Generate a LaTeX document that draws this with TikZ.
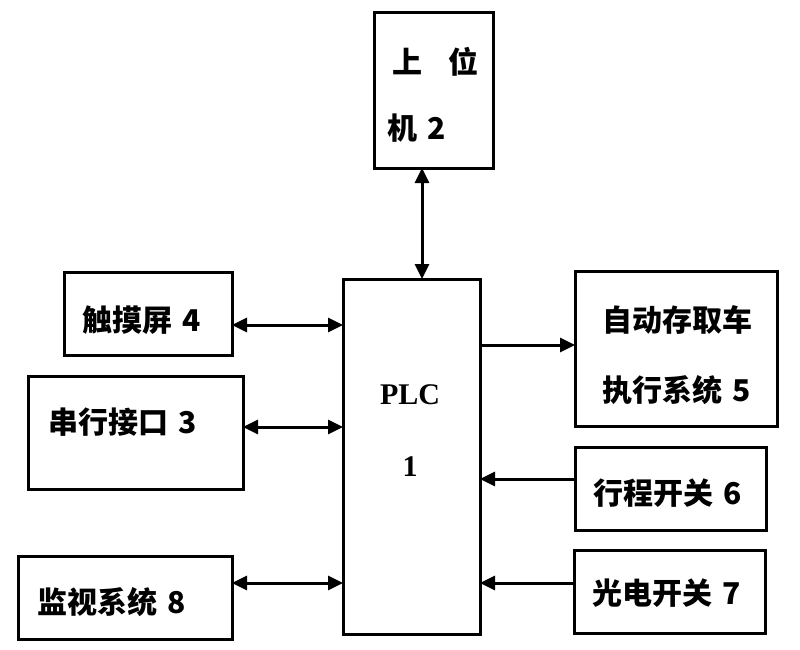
\documentclass[tikz,border=0pt]{standalone}
\usepackage{fontspec}
\setmainfont{Liberation Serif}
\newfontfamily\cjk{Noto Sans CJK SC}
\usetikzlibrary{arrows.meta}
\begin{document}
\begin{tikzpicture}[x=1pt,y=-1pt,
  box/.style={draw, line width=3pt, inner sep=0pt, outer sep=0pt},
  lbl/.style={anchor=west, inner sep=0pt, font=\cjk\bfseries\fontsize{30}{36}\selectfont},
  serif/.style={inner sep=0pt, font=\bfseries\fontsize{30}{36}\selectfont},
  conn/.style={line width=3pt, arrows={-Triangle[length=15pt,width=14pt]}},
  bconn/.style={line width=3pt, arrows={Triangle[length=15pt,width=14pt]-Triangle[length=15pt,width=14pt]}}]
\useasboundingbox (0,0) rectangle (800,650);
\fill[white] (0,0) rectangle (800,650);
% boxes
\node[box, minimum width=119pt, minimum height=155pt] (b2) at (433.5,90.5) {};
\node[box, minimum width=137pt, minimum height=355pt] (plc) at (411.5,456.5) {};
\node[box, minimum width=168pt, minimum height=83pt] (b4) at (148,313.5) {};
\node[box, minimum width=215pt, minimum height=113pt] (b3) at (135.5,432.5) {};
\node[box, minimum width=214pt, minimum height=83pt] (b8) at (125,597.5) {};
\node[box, minimum width=202pt, minimum height=155pt] (b5) at (676,348.5) {};
\node[box, minimum width=191pt, minimum height=83pt] (b6) at (670.5,488.5) {};
\node[box, minimum width=191pt, minimum height=83pt] (b7) at (669.5,591.5) {};
% texts
\node[lbl] (t2a) at (392,62) {上\hspace{26pt}位};
\node[lbl] (t2b) at (387,128) {机\hspace{0.35em}2};
\node[serif] (tplc) at (410,395) {PLC};
\node[serif] (tone) at (410,467) {1};
\node[lbl] (t4) at (82,320) {触摸屏\hspace{0.35em}4};
\node[lbl] (t3) at (48,422) {串行接口\hspace{0.35em}3};
\node[lbl] (t8) at (37,602) {监视系统\hspace{0.35em}8};
\node[lbl] (t5a) at (602,320) {自动存取车};
\node[lbl] (t5b) at (602,390) {执行系统\hspace{0.35em}5};
\node[lbl] (t6) at (593,493) {行程开关\hspace{0.35em}6};
\node[lbl] (t7) at (592,593) {光电开关\hspace{0.35em}7};
% connector rows
\coordinate (v2) at (422,0);
\coordinate (y4) at (0,325);
\coordinate (y3) at (0,427);
\coordinate (y8) at (0,583);
\coordinate (y5) at (0,345);
\coordinate (y6) at (0,479);
\coordinate (y7) at (0,583);
% connectors
\draw[bconn] (b2.south -| v2) -- (plc.north -| v2);
\draw[bconn] (b4.east |- y4) -- (plc.west |- y4);
\draw[bconn] (b3.east |- y3) -- (plc.west |- y3);
\draw[bconn] (b8.east |- y8) -- (plc.west |- y8);
\draw[conn] (plc.east |- y5) -- (b5.west |- y5);
\draw[conn] (b6.west |- y6) -- (plc.east |- y6);
\draw[conn] (b7.west |- y7) -- (plc.east |- y7);
\end{tikzpicture}
\end{document}
